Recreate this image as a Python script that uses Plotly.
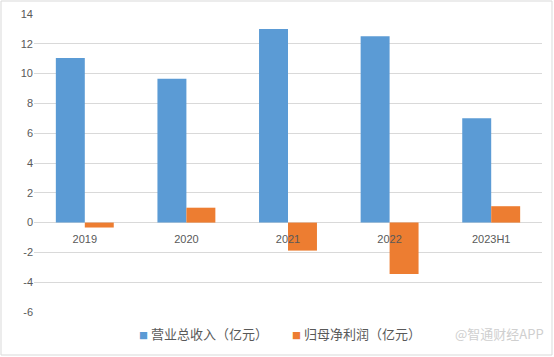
import plotly.graph_objects as go

categories = ["2019", "2020", "2021", "2022", "2023H1"]
revenue = [11.05, 9.65, 13.0, 12.5, 7.0]
net_profit = [-0.33, 1.0, -1.88, -3.45, 1.1]
y_ticks = [-6, -4, -2, 0, 2, 4, 6, 8, 10, 12, 14]
y_tick_labels = ["-6", "-4", "-2", "0", "2", "4", "6", "8", "10", "12", "14"]
series_names = ["营业总收入（亿元）", "归母净利润（亿元）"]
series_colors = ["#5B9BD5", "#ED7D31"]

ymin, ymax = -6, 14

fig = go.Figure()
for vals, name, color in zip([revenue, net_profit], series_names, series_colors):
    fig.add_trace(go.Bar(x=categories, y=vals, name=name, showlegend=False,
                         marker=dict(color=color, line=dict(width=0))))

L, R, T, B = 34, 12, 14, 45
W, H = 554, 357
pw, ph = W - L - R, H - T - B

legend_y = 1 - 333 / H
legend_x = [137 / W, 290 / W]
annotations = []
for name, color, lx in zip(series_names, series_colors, legend_x):
    annotations.append(dict(
        text=f'<span style="color:{color};font-size:9px">■</span> {name}',
        xref="paper", yref="paper", x=(lx * W - L) / pw, y=(legend_y * H - B) / ph,
        xanchor="left", yanchor="middle", showarrow=False,
        font=dict(family="Noto Sans CJK SC", size=13, color="#595959")))
annotations.append(dict(text="@智通财经APP", xref="paper", yref="paper",
                        x=(546 - L) / pw, y=(legend_y * H - B) / ph, xanchor="right", yanchor="middle",
                        showarrow=False, font=dict(size=13, color="#CFCFCF", family="Noto Sans CJK SC")))

fig.update_layout(
    width=W, height=H,
    margin=dict(l=L, r=R, t=T, b=B, autoexpand=False),
    paper_bgcolor="white", plot_bgcolor="white",
    barmode="group", bargap=0.43, bargroupgap=0,
    font=dict(family="Liberation Sans, Arial", color="#595959", size=11),
    showlegend=False,
    xaxis=dict(type="category", anchor="free", position=(0 - ymin) / (ymax - ymin),
               showline=False, showgrid=False, ticks="outside", ticklen=6,
               tickcolor="rgba(0,0,0,0)",
               tickfont=dict(size=11, color="#595959", family="Liberation Sans, Arial"),
               range=[-0.5, 4.5], automargin=False),
    yaxis=dict(range=[ymin, ymax], tickvals=y_ticks, ticktext=y_tick_labels,
               showgrid=True, gridcolor="#D9D9D9",
               gridwidth=1, zeroline=True, zerolinecolor="#D9D9D9", zerolinewidth=1,
               showline=False, ticks="", tickfont=dict(size=11, color="#595959"),
               automargin=False),
    annotations=annotations,
    shapes=[dict(type="rect", xref="paper", yref="paper",
                 x0=-(L - 1) / pw, x1=1 + (R - 2) / pw, y0=-(B - 2) / ph, y1=1 + (T - 1) / ph,
                 line=dict(color="#D9D9D9", width=1), fillcolor="rgba(0,0,0,0)")],
)

fig.write_html("out.html", config={"displayModeBar": False},
               post_script="document.body.style.margin='0';")
